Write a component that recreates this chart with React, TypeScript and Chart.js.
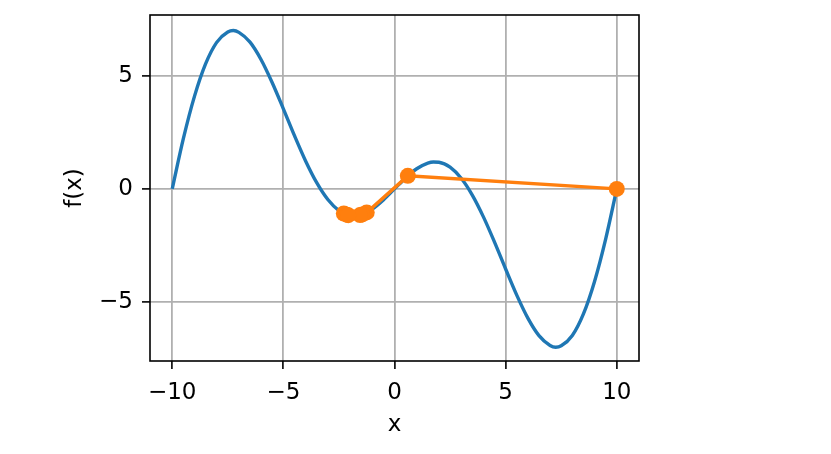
import React, { useEffect, useRef } from "react";
import { Chart, registerables } from "chart.js";

Chart.register(...registerables);

// f(x) curve samples
const curveX = [-10, -9.5, -9, -8.5, -8, -7.5, -7.25, -7, -6.5, -6, -5.5, -5, -4.5, -4, -3.5, -3, -2.5, -2, -1.75, -1.5, -1, -0.5, 0, 0.5, 1, 1.5, 1.75, 2, 2.5, 3, 3.5, 4, 4.5, 5, 5.5, 6, 6.5, 7, 7.25, 7.5, 8, 8.5, 9, 9.5, 10];
const curveY = [0, 2.217, 4.086, 5.52, 6.472, 6.929, 6.993, 6.914, 6.48, 5.706, 4.689, 3.536, 2.351, 1.236, 0.275, -0.469, -0.957, -1.176, -1.188, -1.141, -0.891, -0.486, 0, 0.486, 0.891, 1.141, 1.188, 1.176, 0.957, 0.469, -0.275, -1.236, -2.351, -3.536, -4.689, -5.706, -6.48, -6.914, -6.993, -6.929, -6.472, -5.52, -4.086, -2.217, 0];

// Trajectory points (orange)
const trajX = [10, 0.6, -1.25, -2.28, -1.45, -2.15, -1.55, -2.08];
const trajY = [0, 0.576, -1.04, -1.085, -1.125, -1.136, -1.155, -1.158];

const xTicks = [-10, -5, 0, 5, 10];
const yTicks = [-5, 0, 5];
const xTitle = "x";
const yTitle = "f(x)";

const FONT = "'DejaVu Sans', sans-serif";
const FS = 23;

const framePlugin = {
  id: "frame",
  afterDatasetsDraw(chart: any) {
    const { ctx, chartArea } = chart;
    ctx.save();
    ctx.strokeStyle = "#000";
    ctx.lineWidth = 1.6;
    ctx.strokeRect(chartArea.left, chartArea.top, chartArea.right - chartArea.left, chartArea.bottom - chartArea.top);
    ctx.restore();
  },
};

const fmt = (v: any) => String(v).replace("-", "\u2212");

export default function App() {
  const ref = useRef<HTMLCanvasElement | null>(null);
  useEffect(() => {
    document.body.style.margin = "0";
    const canvas = ref.current!;
    const chart = new Chart(canvas, {
      type: "line",
      data: {
        datasets: [
          {
            data: trajX.map((x, i) => ({ x, y: trajY[i] })),
            borderColor: "#ff7f0e",
            backgroundColor: "#ff7f0e",
            borderWidth: 3.4,
            pointRadius: 8,
            pointBorderWidth: 0,
            pointBackgroundColor: "#ff7f0e",
            tension: 0,
            order: 0,
          },
          {
            data: curveX.map((x, i) => ({ x, y: curveY[i] })),
            borderColor: "#1f77b4",
            borderWidth: 3.4,
            pointRadius: 0,
            cubicInterpolationMode: "monotone",
            order: 1,
          },
        ],
      },
      options: {
        responsive: false,
        animation: false,
        events: [],
        layout: { padding: { top: 15, right: 192, left: 0, bottom: 0 } },
        plugins: { legend: { display: false }, tooltip: { enabled: false } },
        scales: {
          x: {
            type: "linear",
            min: -11,
            max: 11,
            afterBuildTicks: (s: any) => { s.ticks = xTicks.map((v) => ({ value: v })); },
            afterFit: (s: any) => { s.height = 93; s.paddingLeft = 0; s.paddingRight = 0; },
            grid: { color: "#b0b0b0", lineWidth: 1.8, tickColor: "#000", tickLength: 8, tickWidth: 1.6 },
            border: { display: false },
            ticks: { color: "#000", font: { family: FONT, size: FS }, padding: 10, maxRotation: 0, callback: fmt },
            title: { display: true, text: xTitle, color: "#000", font: { family: FONT, size: FS }, padding: { bottom: 15, top: 0 } },
          },
          y: {
            type: "linear",
            min: -7.6,
            max: 7.68,
            afterBuildTicks: (s: any) => { s.ticks = yTicks.map((v) => ({ value: v })); },
            afterFit: (s: any) => { s.width = 150; s.paddingTop = 0; s.paddingBottom = 0; },
            grid: { color: "#b0b0b0", lineWidth: 1.8, tickColor: "#000", tickLength: 8, tickWidth: 1.6 },
            border: { display: false },
            ticks: { color: "#000", font: { family: FONT, size: FS }, padding: 9, callback: fmt },
            title: { display: true, text: yTitle, color: "#000", font: { family: FONT, size: FS }, padding: { top: 61, bottom: 0 } },
          },
        },
      },
      plugins: [framePlugin],
    } as any);
    return () => chart.destroy();
  }, []);
  return (
    <div style={{ position: "absolute", left: 0, top: 0, width: 831, height: 454 }}>
      <canvas ref={ref} width={831} height={454} style={{ width: 831, height: 454 }} />
    </div>
  );
}
